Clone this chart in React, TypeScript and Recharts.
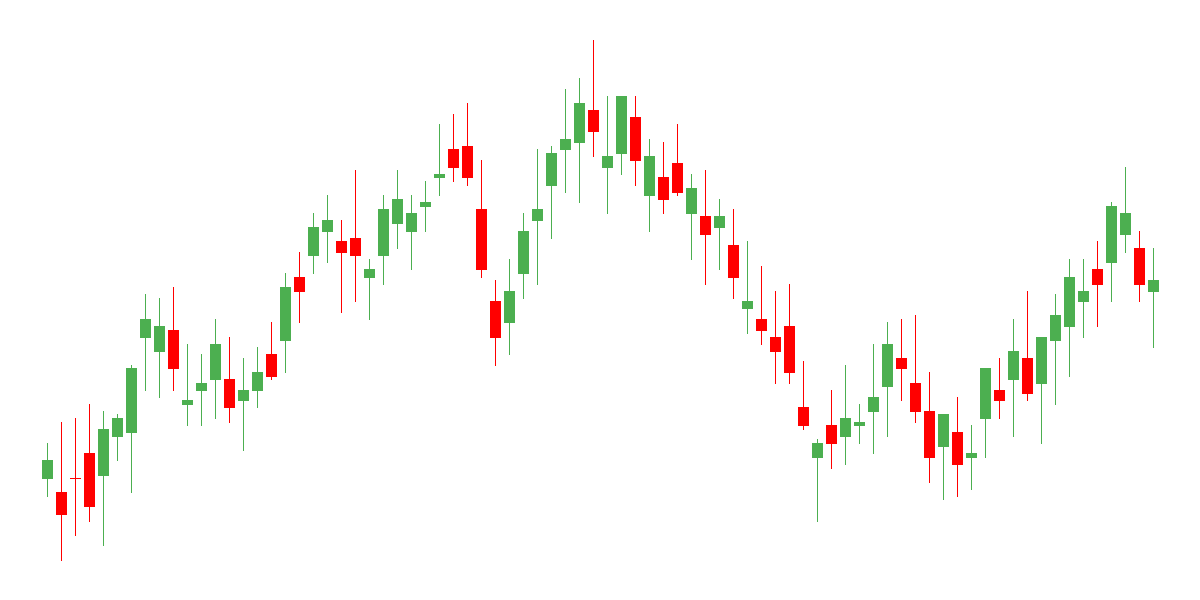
import React from 'react';
import { ComposedChart, Bar, XAxis, YAxis } from 'recharts';

// OHLC (price units)
const opens = [
  121, 108, 122, 147, 124, 163, 167, 262, 248, 270, 195, 209, 220, 221, 199, 209, 246, 259, 323, 344,
  368, 359, 362, 322, 344, 376, 368, 393, 422, 451, 454, 391, 299, 277, 326, 379, 414, 450, 457, 490,
  432, 446, 483, 404, 423, 437, 386, 384, 372, 355, 291, 281, 263, 274, 193, 142, 175, 163, 174, 188,
  213, 242, 217, 189, 153, 168, 142, 181, 210, 220, 242, 216, 259, 273, 298, 331, 337, 365, 352, 308,
];
const highs = [
  157, 178, 182, 196, 189, 186, 235, 306, 302, 313, 256, 246, 281, 263, 242, 253, 278, 327, 348, 387,
  405, 380, 430, 341, 405, 430, 405, 419, 476, 486, 497, 440, 320, 341, 387, 451, 454, 511, 522, 560,
  504, 504, 504, 461, 458, 476, 426, 430, 401, 391, 359, 334, 309, 316, 239, 161, 210, 235, 196, 256,
  278, 281, 285, 228, 186, 203, 175, 232, 242, 281, 309, 263, 306, 341, 341, 359, 398, 433, 369, 352,
];
const lows = [
  103, 39, 64, 78, 54, 139, 107, 209, 202, 209, 174, 174, 181, 177, 149, 192, 220, 227, 277, 326,
  337, 287, 298, 280, 315, 351, 330, 368, 404, 418, 414, 322, 234, 245, 301, 315, 361, 407, 397, 443,
  386, 425, 414, 368, 386, 404, 340, 315, 330, 301, 266, 255, 216, 216, 170, 78, 131, 135, 156, 146,
  163, 199, 177, 117, 100, 103, 110, 142, 181, 163, 199, 156, 195, 223, 262, 273, 298, 347, 298, 252,
];
const closes = [
  140, 85, 122, 93, 171, 182, 232, 281, 274, 231, 200, 217, 256, 192, 210, 228, 223, 313, 308, 373,
  380, 347, 344, 331, 391, 401, 387, 398, 426, 432, 422, 330, 262, 309, 369, 391, 447, 461, 497, 468,
  444, 504, 439, 444, 400, 407, 412, 365, 384, 322, 299, 269, 248, 227, 174, 157, 156, 182, 178, 203,
  256, 231, 188, 142, 186, 135, 147, 232, 199, 249, 206, 263, 285, 323, 309, 315, 394, 387, 315, 320,
];

const UP = '#4caf50';
const DOWN = '#ff0000';

const data = opens.map((o, i) => ({
  idx: i,
  open: o,
  high: highs[i],
  low: lows[i],
  close: closes[i],
  range: [lows[i], highs[i]],
}));

const Candle = (props: any) => {
  const { x, y, width, height, payload } = props;
  const { open, close, high, low } = payload;
  const span = high - low || 1;
  const ratio = height / span;
  const yOf = (v: number) => y + (high - v) * ratio;
  const color = close > open ? UP : DOWN;
  const cx = x + width / 2;
  const top = yOf(Math.max(open, close));
  const bottom = yOf(Math.min(open, close));
  const bodyH = Math.max(1, bottom - top);
  return (
    <g>
      <line x1={cx} x2={cx} y1={y} y2={y + height} stroke={color} strokeWidth={1} />
      <rect x={x} y={top} width={width} height={bodyH} fill={color} />
    </g>
  );
};

const App: React.FC = () => {
  return (
    <ComposedChart
      width={1184}
      height={584}
      data={data}
      margin={{ top: 0, right: 32, bottom: 0, left: 32 }}
    >
      <XAxis dataKey="idx" hide />
      <YAxis hide domain={[8, 592]} />
      <Bar dataKey="range" barSize={11} shape={<Candle />} isAnimationActive={false} />
    </ComposedChart>
  );
};

export default App;
